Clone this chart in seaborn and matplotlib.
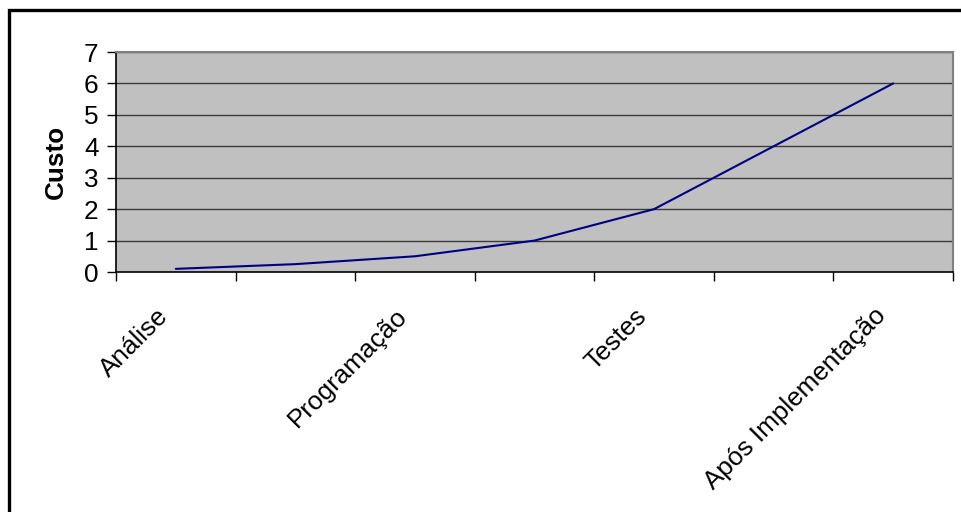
import matplotlib
matplotlib.use("Agg")
import matplotlib.pyplot as plt
import matplotlib.transforms as mtransforms
from matplotlib.patches import Rectangle
import numpy as np
import pandas as pd
import seaborn as sns

# Relative cost of fixing a defect by project phase
stage_labels = ["Análise", "", "Programação", "", "Testes", "", "Após Implementação"]
custo = [0.1, 0.25, 0.5, 1, 2, 4, 6]
y_ticks = [0, 1, 2, 3, 4, 5, 6, 7]

sns.set_theme(style="white")
plt.rcParams["font.family"] = ["Liberation Sans", "DejaVu Sans"]

df = pd.DataFrame({"pos": np.arange(len(custo)), "custo": custo})

fig = plt.figure(figsize=(9.61, 5.12), dpi=100)
fig.patch.set_facecolor("white")
ax = fig.add_axes([116 / 961, 1 - 272 / 512, 837 / 961, 220 / 512])
ax.set_facecolor("#C0C0C0")

sns.lineplot(data=df, x="pos", y="custo", ax=ax, color="#000080", linewidth=1.5,
             zorder=3)

FS = 18.8
ax.set_xlim(-0.5, len(custo) - 0.5)
ax.set_ylim(0, 7)
ax.set_yticks(y_ticks)
ax.set_yticklabels([str(v) for v in y_ticks], fontsize=FS, color="black")
for v in y_ticks[1:]:
    ax.axhline(v, color="#3a3a3a", linewidth=1.0, zorder=1)

# Category labels on every other phase, tick marks at category boundaries
shown = [i for i, s in enumerate(stage_labels) if s]
ax.set_xticks(shown)
ax.set_xticklabels([stage_labels[i] for i in shown], fontsize=FS, rotation=45,
                   ha="right", va="center", rotation_mode="anchor", color="black")
ax.set_xticks(np.arange(-0.5, len(custo), 1.0), minor=True)
ax.tick_params(axis="x", which="major", length=0, pad=29)
ax.tick_params(axis="x", which="minor", length=6.5, width=1, color="black",
               direction="out", bottom=True)
ax.tick_params(axis="y", which="major", length=6.5, width=1, color="black",
               direction="out", left=True, pad=6)
offset = mtransforms.ScaledTranslation(-11 / 100, 0, fig.dpi_scale_trans)
for lab in ax.get_xticklabels():
    lab.set_transform(lab.get_transform() + offset)

ax.set_xlabel("")
ax.set_ylabel("Custo", fontsize=FS, fontweight="bold", color="black")
ax.yaxis.set_label_coords(-0.058, 0.5)

for side in ["left", "bottom"]:
    ax.spines[side].set_color("black")
    ax.spines[side].set_linewidth(1.2)
for side in ["top", "right"]:
    ax.spines[side].set_color("#808080")
    ax.spines[side].set_linewidth(1.5)
    ax.spines[side].set_visible(True)

# Chart frame
frame = Rectangle((9 / 961, -0.2), 1.2, 1.2 - 9.5 / 512, transform=fig.transFigure,
                  fill=False, edgecolor="black", linewidth=2.4)
fig.patches.append(frame)

fig.savefig("out.png", dpi=100)
